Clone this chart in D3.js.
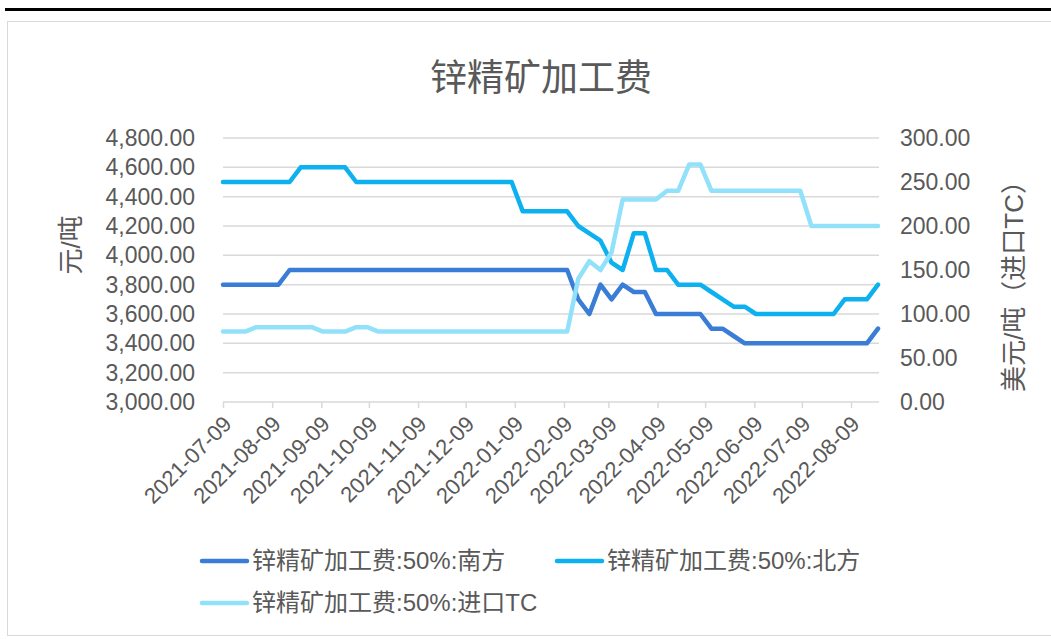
<!DOCTYPE html>
<html>
<head>
<meta charset="utf-8">
<script src="https://cdn.jsdelivr.net/npm/d3@7"></script>
<style>
  body { margin: 0; background: #fff; }
  text { font-family: "Liberation Sans", Arial, "Noto Sans CJK SC", sans-serif; fill: #595959; }
</style>
</head>
<body>
<svg id="chart"></svg>
<script>
// weekly dates
const dates = ['2021-07-09','2021-07-16','2021-07-23','2021-07-30','2021-08-06','2021-08-13','2021-08-20','2021-08-27',
  '2021-09-03','2021-09-10','2021-09-17','2021-09-24','2021-10-01','2021-10-08','2021-10-15','2021-10-22','2021-10-29',
  '2021-11-05','2021-11-12','2021-11-19','2021-11-26','2021-12-03','2021-12-10','2021-12-17','2021-12-24','2021-12-31',
  '2022-01-07','2022-01-14','2022-01-21','2022-01-28','2022-02-04','2022-02-11','2022-02-18','2022-02-25',
  '2022-03-04','2022-03-11','2022-03-18','2022-03-25','2022-04-01','2022-04-08','2022-04-15','2022-04-22','2022-04-29',
  '2022-05-06','2022-05-13','2022-05-20','2022-05-27','2022-06-03','2022-06-10','2022-06-17','2022-06-24',
  '2022-07-01','2022-07-08','2022-07-15','2022-07-22','2022-07-29','2022-08-05','2022-08-12','2022-08-19','2022-08-26'];

const south = [3800,3800,3800,3800,3800,3800,
  3900,3900,3900,3900,3900,3900,3900,3900,3900,3900,3900,3900,3900,3900,3900,3900,3900,3900,3900,3900,3900,3900,3900,3900,3900,3900,
  3700,3600,3800,3700,3800,3750,3750,3600,3600,3600,3600,3600,3500,3500,3450,
  3400,3400,3400,3400,3400,3400,3400,3400,3400,3400,3400,3400,3500];

const north = [4500,4500,4500,4500,4500,4500,4500,
  4600,4600,4600,4600,4600,
  4500,4500,4500,4500,4500,4500,4500,4500,4500,4500,4500,4500,4500,4500,4500,
  4300,4300,4300,4300,4300,
  4200,4150,4100,3950,3900,4150,4150,3900,3900,3800,3800,3800,3750,3700,3650,3650,
  3600,3600,3600,3600,3600,3600,3600,3600,3700,3700,3700,3800];

const importTC = [80,80,80,85,85,85,85,85,85,80,80,80,85,85,
  80,80,80,80,80,80,80,80,80,80,80,80,80,80,80,80,80,80,
  140,160,150,170,230,230,230,230,240,240,270,270,
  240,240,240,240,240,240,240,240,240,200,200,200,200,200,200,200];

const tickLabels = ['2021-07-09','2021-08-09','2021-09-09','2021-10-09','2021-11-09','2021-12-09',
  '2022-01-09','2022-02-09','2022-03-09','2022-04-09','2022-05-09','2022-06-09','2022-07-09','2022-08-09'];
const leftTicks = [3000,3200,3400,3600,3800,4000,4200,4400,4600,4800];
const rightTicks = [0,50,100,150,200,250,300];

const seriesNames = ['锌精矿加工费:50%:南方','锌精矿加工费:50%:北方','锌精矿加工费:50%:进口TC'];
const colors = ['#3a7dd6','#0db1ef','#92e1fb'];

const width = 1051, height = 639;
const plot = {left: 223, right: 879, top: 138, bottom: 402};

const parse = d3.timeParse('%Y-%m-%d');

const svg = d3.select('#chart')
  .attr('width', width)
  .attr('height', height);

// frame
svg.append('line')
  .attr('x1', 5).attr('x2', width).attr('y1', 9.5).attr('y2', 9.5)
  .attr('stroke', '#000').attr('stroke-width', 3);
svg.append('rect')
  .attr('x', 7.5).attr('y', 21.5).attr('width', width).attr('height', 614)
  .attr('fill', '#fff').attr('stroke', '#d9d9d9');

const x = d3.scaleTime()
  .domain([parse(dates[0]), parse(dates[dates.length - 1])])
  .range([plot.left, plot.right - 1]);

const yL = d3.scaleLinear().domain([3000, 4800]).range([plot.bottom, plot.top]);
const yR = d3.scaleLinear().domain([0, 300]).range([plot.bottom, plot.top]);

// grid
svg.append('g').selectAll('line')
  .data(leftTicks.slice(1))
  .enter().append('line')
  .attr('x1', plot.left).attr('x2', plot.right)
  .attr('y1', d => yL(d)).attr('y2', d => yL(d))
  .attr('stroke', '#d9d9d9').attr('stroke-width', 1.5);

// x axis
const xAxis = svg.append('g').attr('transform', `translate(0,${plot.bottom})`)
  .call(d3.axisBottom(x)
    .tickValues(tickLabels.map(parse))
    .tickSize(6)
    .tickFormat(d3.timeFormat('%Y-%m-%d')));
xAxis.select('.domain').attr('d', `M${plot.left},0H${plot.right}`).attr('stroke', '#d9d9d9').attr('stroke-width', 1.5);
xAxis.selectAll('.tick line').attr('stroke', '#d9d9d9').attr('stroke-width', 1.5);
xAxis.selectAll('.tick text')
  .attr('font-size', 22)
  .attr('fill', '#595959')
  .attr('text-anchor', 'end')
  .attr('y', 0).attr('dy', '0.35em')
  .attr('transform', 'translate(4,18) rotate(-45)');

// left axis
const left = svg.append('g').attr('transform', `translate(${plot.left},0)`)
  .call(d3.axisLeft(yL).tickValues(leftTicks).tickSize(0).tickPadding(28).tickFormat(d3.format(',.2f')));
left.select('.domain').remove();
left.selectAll('text').attr('font-size', 23).attr('fill', '#595959');

// right axis
const right = svg.append('g').attr('transform', `translate(${plot.right},0)`)
  .call(d3.axisRight(yR).tickValues(rightTicks).tickSize(0).tickPadding(21).tickFormat(d3.format('.2f')));
right.select('.domain').remove();
right.selectAll('text').attr('font-size', 23).attr('fill', '#595959');

// lines
const lineL = d3.line().x((d, i) => x(parse(dates[i]))).y(d => yL(d));
const lineR = d3.line().x((d, i) => x(parse(dates[i]))).y(d => yR(d));

[[south, lineL], [north, lineL], [importTC, lineR]].forEach(([vals, gen], i) => {
  svg.append('path')
    .datum(vals)
    .attr('d', gen)
    .attr('fill', 'none')
    .attr('stroke', colors[i])
    .attr('stroke-width', 4.5)
    .attr('stroke-linejoin', 'round')
    .attr('stroke-linecap', 'round');
});

// title + axis titles
svg.append('text')
  .attr('x', 541).attr('y', 91)
  .attr('text-anchor', 'middle')
  .attr('font-size', 37)
  .text('锌精矿加工费');

svg.append('text')
  .attr('transform', 'translate(80,245) rotate(-90)')
  .attr('text-anchor', 'middle')
  .attr('font-size', 26)
  .text('元/吨');

svg.append('text')
  .attr('transform', 'translate(1023,280) rotate(-90)')
  .attr('text-anchor', 'middle')
  .attr('font-size', 26)
  .text('美元/吨（进口TC）');

// legend
const legendPos = [[200, 561], [555, 561], [200, 603]];
const legend = svg.append('g').selectAll('g')
  .data(seriesNames)
  .enter().append('g')
  .attr('transform', (d, i) => `translate(${legendPos[i][0]},${legendPos[i][1]})`);

legend.append('line')
  .attr('x1', 2).attr('x2', 47)
  .attr('stroke', (d, i) => colors[i])
  .attr('stroke-width', 4.5)
  .attr('stroke-linecap', 'round');

legend.append('text')
  .attr('x', 52).attr('dy', '0.35em')
  .attr('font-size', 24)
  .text(d => d);
</script>
</body>
</html>
